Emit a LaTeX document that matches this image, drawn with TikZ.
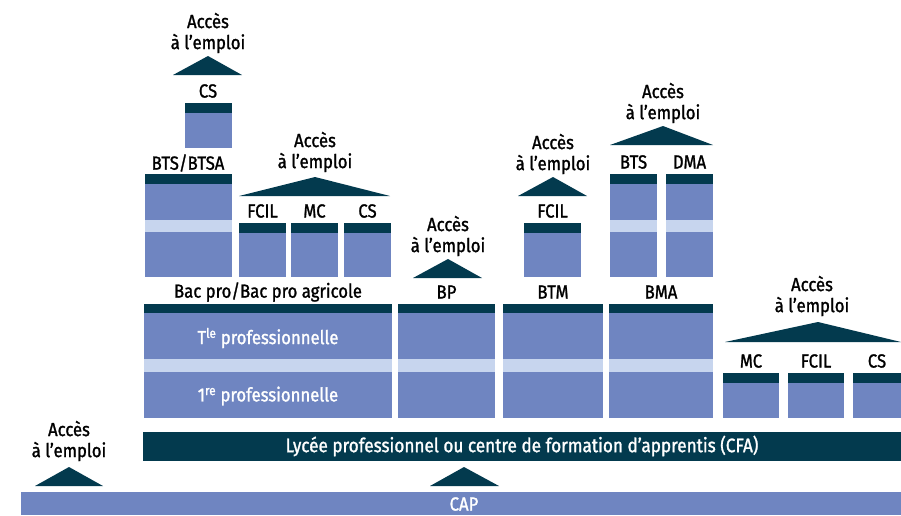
\documentclass[tikz,border=0pt]{standalone}
\usepackage{fontspec}
\setmainfont[FakeStretch=0.88,FakeBold=1.3]{Fira Sans}
\definecolor{dk}{HTML}{033A4E}
\definecolor{md}{HTML}{6F85C1}
\definecolor{lt}{HTML}{C7D5EE}
\begin{document}
\begin{tikzpicture}[x=1pt,y=-1pt,
  dark/.style={fill=dk},
  mid/.style={fill=md},
  light/.style={fill=lt},
  lbl/.style={font=\fontsize{19}{19}\selectfont, text=black, inner sep=0pt, anchor=center},
  wlbl/.style={font=\fontsize{19}{19}\selectfont, text=white, inner sep=0pt, anchor=center},
  acc/.style={font=\fontsize{19}{21}\selectfont, text=black, inner sep=0pt, align=center, anchor=center}]
\useasboundingbox (0,0) rectangle (901,515);
% Top left CS
\node[acc] (a1) at (208,33) {Accès\\à l’emploi};
\fill[dark] (173,75) -- (208,56) -- (242,75) -- cycle;
\node[lbl] (cs1) at (208,91) {CS};
\fill[dark] (185,103) rectangle (232,113);
\fill[mid] (185,113) rectangle (232,148);
% BTS/BTSA
\node[lbl] (bts1) at (188,163) {BTS/BTSA};
\fill[dark] (145,174) rectangle (232,184);
\fill[mid] (145,184) rectangle (232,220);
\fill[light] (145,220) rectangle (232,232);
\fill[mid] (145,232) rectangle (232,277);
% FCIL MC CS group
\node[acc] (a2) at (315,152) {Accès\\à l’emploi};
\fill[dark] (239,196) -- (315,177) -- (390,196) -- cycle;
\node[lbl] (fcil1) at (262.5,211) {FCIL};
\node[lbl] (mc1) at (314.5,211) {MC};
\node[lbl] (cs2) at (367.5,211) {CS};
\foreach \a/\b in {239/286,291/338,344/391}{
  \fill[dark] (\a,223) rectangle (\b,233);
  \fill[mid] (\a,233) rectangle (\b,277);
}
% Bac pro
\node[lbl] (bac) at (268,292) {Bac pro/Bac pro agricole};
\foreach \a/\b in {144/392,398/495,503/603,609/713}{
  \fill[dark] (\a,304) rectangle (\b,313);
  \fill[mid] (\a,313) rectangle (\b,359);
  \fill[light] (\a,359) rectangle (\b,372);
  \fill[mid] (\a,372) rectangle (\b,418);
}
\node[wlbl] (tle) at (268,338) {T\textsuperscript{le} professionnelle};
\node[wlbl] (pre) at (268,396) {1\textsuperscript{re} professionnelle};
% BP
\node[acc] (a3) at (448,236) {Accès\\à l’emploi};
\fill[dark] (413,278) -- (448,259) -- (482,278) -- cycle;
\node[lbl] (bp) at (446.5,292) {BP};
% BTM
\node[lbl] (btm) at (553,292) {BTM};
\node[lbl] (fcil2) at (552.5,211) {FCIL};
\fill[dark] (524,223) rectangle (581,233);
\fill[mid] (524,233) rectangle (581,277);
\node[acc] (a4) at (553,154) {Accès\\à l’emploi};
\fill[dark] (518,196) -- (553,177) -- (587,196) -- cycle;
% BMA
\node[lbl] (bma) at (661,292) {BMA};
\node[lbl] (bts2) at (633.5,162) {BTS};
\node[lbl] (dma) at (689.5,162) {DMA};
\foreach \a/\b in {610/657,666/713}{
  \fill[dark] (\a,174) rectangle (\b,184);
  \fill[mid] (\a,184) rectangle (\b,220);
  \fill[light] (\a,220) rectangle (\b,232);
  \fill[mid] (\a,232) rectangle (\b,277);
}
\node[acc] (a5) at (663,103) {Accès\\à l’emploi};
\fill[dark] (610,145) -- (663,126) -- (713,145) -- cycle;
% Right group
\node[acc] (a6) at (812,296) {Accès\\à l’emploi};
\fill[dark] (725,342) -- (818,322) -- (901,342) -- cycle;
\node[lbl] (mc2) at (751,361) {MC};
\node[lbl] (fcil3) at (816,361) {FCIL};
\node[lbl] (cs3) at (877,361) {CS};
\foreach \a/\b in {723/779,788/844,853/901}{
  \fill[dark] (\a,373) rectangle (\b,383);
  \fill[mid] (\a,383) rectangle (\b,418);
}
% Lycée bar
\fill[dark] (143,432) rectangle (901,461);
\node[wlbl, font=\fontsize{19.5}{19.5}\selectfont] (lyc) at (522,446) {Lycée professionnel ou centre de formation d’apprentis (CFA)};
% Left access
\node[acc] (a7) at (69,441) {Accès\\à l’emploi};
\fill[dark] (35,486) -- (69,467) -- (103,486) -- cycle;
\fill[dark] (430,486) -- (464,467) -- (499,486) -- cycle;
% CAP
\fill[mid] (21,492) rectangle (901,515);
\node[wlbl] (cap) at (464,504) {CAP};
\end{tikzpicture}
\end{document}
